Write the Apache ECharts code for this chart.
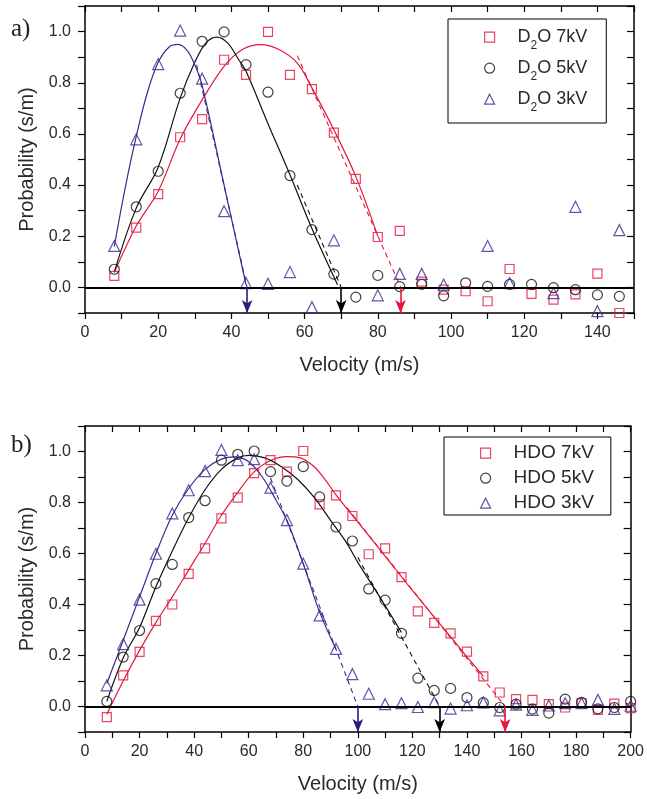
<!DOCTYPE html>
<html><head><meta charset="utf-8">
<script src="https://cdn.jsdelivr.net/npm/echarts/dist/echarts.min.js"></script>
<style>html,body{margin:0;padding:0;background:#fff}#c{width:647px;height:799px}</style>
</head><body><div id="c"></div>
<script>
// ---------- Panel a) D2O ----------
const velTop = [8,14,20,26,32,38,44,50,56,62,68,74,80,86,92,98,104,110,116,122,128,134,140,146];
const d2o7 = [0.045,0.234,0.365,0.587,0.658,0.890,0.831,0.999,0.831,0.775,0.605,0.424,0.197,0.221,0.023,-0.009,-0.015,-0.054,0.072,-0.025,-0.048,-0.027,0.054,-0.100];
const d2o5 = [0.071,0.315,0.454,0.759,0.962,0.999,0.871,0.763,0.437,0.226,0.052,-0.038,0.047,0.003,0.012,-0.033,0.018,0.004,0.012,0.012,-0.001,-0.009,-0.029,-0.035];
const d2o3 = [0.162,0.579,0.873,1.004,0.816,0.298,0.017,0.014,0.060,-0.077,0.184,null,-0.031,0.053,0.053,0.011,null,0.162,0.017,null,-0.022,0.315,-0.093,0.224];
const fitTop7 = [[8,0.058],[14,0.24],[20,0.376],[26,0.58],[32,0.733],[38,0.864],[43,0.93],[48,0.949],[53,0.93],[58,0.877],[62,0.78],[68,0.616],[74,0.433],[80,0.2]];
const fitTop5 = [[8,0.06],[14,0.31],[20,0.47],[26,0.74],[30,0.88],[33,0.955],[36,0.978],[39,0.955],[42,0.89],[44,0.845],[50,0.64],[56,0.44],[62,0.23],[69,0.01]];
const fitTop3 = [[8,0.16],[11,0.39],[14,0.59],[17,0.76],[20,0.88],[23,0.94],[25.5,0.95],[28,0.925],[30,0.87],[32,0.79],[38,0.40],[44,0.01]];
const linTop7 = [[58,0.906],[86.3,0]];
const linTop5 = [[58,0.40],[70,0]];
const linTop3 = [[30.5,0.87],[44.3,0]];
const arrowsTop = [44.3, 70, 86.2];
const namesTop = ['D2O 7kV','D2O 5kV','D2O 3kV'];

// ---------- Panel b) HDO ----------
const velBot = [8,14,20,26,32,38,44,50,56,62,68,74,80,86,92,98,104,110,116,122,128,134,140,146,152,158,164,170,176,182,188,194,200];
const hdo7 = [-0.042,0.122,0.214,0.336,0.400,0.520,0.620,0.738,0.819,0.915,0.966,0.921,1.002,0.793,0.828,0.747,0.597,0.620,0.507,0.373,0.328,0.287,0.215,0.118,0.055,0.029,0.026,0.009,-0.004,0.013,-0.013,0.011,-0.006];
const hdo5 = [0.020,0.194,0.298,0.482,0.557,0.741,0.807,0.966,0.989,1.002,0.921,0.884,0.941,0.822,0.704,0.649,0.461,0.417,0.287,0.111,0.063,0.071,0.035,0.015,-0.004,0.009,-0.010,-0.026,0.029,0.016,-0.009,-0.004,0.020];
const hdo3 = [0.083,0.245,0.419,0.599,0.757,0.848,0.923,1.006,0.966,0.970,0.858,0.731,0.560,0.357,0.226,0.127,0.050,0.009,0.013,-0.002,0.017,-0.008,0.005,0.016,-0.015,0.007,-0.013,0.004,0.013,0.013,0.026,-0.009,0.003];
const fitBot7 = [[8,-0.03],[14,0.1],[20,0.22],[26,0.33],[32,0.43],[38,0.535],[44,0.64],[50,0.75],[56,0.84],[62,0.92],[68,0.965],[74,0.98],[79,0.975],[84,0.94],[88,0.89],[92,0.83],[98,0.75],[104,0.67],[110,0.59],[120,0.455],[130,0.325],[140,0.195],[146,0.118]];
const fitBot5 = [[8,0.02],[14,0.19],[20,0.31],[26,0.47],[32,0.61],[38,0.74],[44,0.85],[50,0.93],[56,0.975],[60,0.985],[66,0.975],[72,0.94],[78,0.89],[84,0.82],[90,0.73],[96,0.64],[100,0.565],[108,0.43],[116,0.29]];
const fitBot3 = [[8,0.09],[14,0.26],[20,0.43],[26,0.6],[32,0.75],[38,0.855],[44,0.93],[50,0.97],[55,0.979],[60,0.96],[65,0.9],[70,0.81],[74,0.73],[80,0.56],[86,0.37],[92,0.225]];
const linBot7 = [[96,0.78],[154,0]];
const linBot5 = [[100,0.585],[130,0]];
const linBot3 = [[68,0.896],[100,0]];
const arrowsBot = [100, 130, 154];
const namesBot = ['HDO 7kV','HDO 5kV','HDO 3kV'];

const RED = '#e5173a', BLK = '#111111', PUR = '#3b2a8e', PURA = '#2d1a7c';
const FONT = 'Liberation Sans, Arial, sans-serif';
const TXT = '#2a2a2a';

function pairs(v, a){ const out=[]; v.forEach((x,i)=>{ if(a[i]!==null) out.push([x,a[i]]); }); return out; }

function xAxes(gi, max){
  return [
    {type:'value', gridIndex:gi, min:0, max:max, interval:10, position:'bottom',
     axisLine:{onZero:false, lineStyle:{color:'#000', width:1.5}},
     axisTick:{inside:false, length:6, lineStyle:{color:'#000', width:1.2}},
     axisLabel:{margin:12, fontSize:16, color:TXT, fontFamily:FONT, formatter:v => (v%20===0 ? String(v) : '')},
     splitLine:{show:false},
     name:'Velocity (m/s)', nameLocation:'middle', nameGap:42,
     nameTextStyle:{fontSize:20, color:TXT, fontFamily:FONT}},
    {type:'value', gridIndex:gi, min:0, max:max, interval:10, position:'top',
     axisLine:{onZero:false, lineStyle:{color:'#000', width:1.5}},
     axisTick:{inside:true, length:6, lineStyle:{color:'#000', width:1.2}},
     axisLabel:{show:false}, splitLine:{show:false}}
  ];
}
function yAxes(gi){
  return [
    {type:'value', gridIndex:gi, min:-0.1, max:1.1, interval:0.1, position:'left',
     axisLine:{onZero:false, lineStyle:{color:'#000', width:1.5}},
     axisTick:{inside:false, length:7, lineStyle:{color:'#000', width:1.2}},
     axisLabel:{margin:14, fontSize:16, color:TXT, fontFamily:FONT, formatter:v => { const k=Math.round(v*10); return (k>=0 && k<=10 && k%2===0) ? (k/10).toFixed(1) : ''; }},
     splitLine:{show:false},
     name:'Probability (s/m)', nameLocation:'middle', nameGap:46, nameRotate:90,
     nameTextStyle:{fontSize:20, color:TXT, fontFamily:FONT}},
    {type:'value', gridIndex:gi, min:-0.1, max:1.1, interval:0.1, position:'right',
     axisLine:{onZero:false, lineStyle:{color:'#000', width:1.5}},
     axisTick:{inside:true, length:7, lineStyle:{color:'#000', width:1.2}},
     axisLabel:{show:false}, splitLine:{show:false}}
  ];
}

function panelSeries(xi, yi, vel, sets, names, fits, lins, arrows){
  const cols = [RED, BLK, PUR];
  const syms = ['rect','circle','triangle'];
  const sizes = [9, 10, 11];
  const arrowCols = [PURA, '#000', RED]; // arrows listed left to right: 3kV, 5kV, 7kV
  const s = [];
  for (let i=0;i<3;i++){
    s.push({type:'line', name:'fit'+i, xAxisIndex:xi, yAxisIndex:yi, data:fits[i], smooth:0.35,
      showSymbol:false, lineStyle:{color:cols[i], width:1.2}, z:3, silent:true});
    s.push({type:'line', name:'lin'+i, xAxisIndex:xi, yAxisIndex:yi, data:lins[i],
      showSymbol:false, lineStyle:{color:cols[i], width:1.1, type:[5,4]}, z:3, silent:true});
  }
  for (let i=0;i<3;i++){
    s.push({type:'scatter', name:names[i], xAxisIndex:xi, yAxisIndex:yi, data:pairs(vel, sets[i]),
      symbol:syms[i], symbolSize:sizes[i], z:4,
      itemStyle:{color:'rgba(0,0,0,0)', borderColor:cols[i], borderWidth:1.2}});
  }
  s.push({type:'line', name:'zero', xAxisIndex:xi, yAxisIndex:yi, data:[], silent:true,
    markLine:{silent:true, symbol:['none','none'], label:{show:false}, animation:false,
      lineStyle:{color:'#000', width:2.2, type:'solid'}, data:[{yAxis:0}]}});
  arrows.forEach((a, j) => {
    s.push({type:'line', name:'arrow'+j, xAxisIndex:xi, yAxisIndex:yi, data:[], silent:true,
      markLine:{silent:true, symbol:['none','arrow'], symbolSize:[8,13], label:{show:false}, animation:false,
        lineStyle:{color:arrowCols[j], width:1.6, type:'solid'},
        data:[[{coord:[a,0]},{coord:[a,-0.1]}]]}});
  });
  return s;
}

function legendFor(names, left, top, sub, padding, gap){
  return {
    show:true, orient:'vertical', left:left, top:top, data:names,
    selectedMode:false, itemWidth:10, itemHeight:10, itemGap:gap,
    padding:padding, borderColor:'#000', borderWidth:1, backgroundColor:'#fff',
    itemStyle:{borderWidth:1.2},
    formatter: n => sub ? ('{a|' + n.slice(0,1) + '}{s|2}{b|' + n.slice(2) + '}') : ('{a|' + n + '}'),
    textStyle:{color:TXT, fontFamily:FONT,
      rich:{
        a:{fontSize:sub?18:19, lineHeight:sub?20:22, padding:[0,0,0,18], color:TXT, fontFamily:FONT},
        s:{fontSize:12, lineHeight:14, padding:[17,0,0,0], color:TXT, fontFamily:FONT},
        b:{fontSize:18, lineHeight:20, color:TXT, fontFamily:FONT}
      }}
  };
}

const chart = echarts.init(document.getElementById('c'), null, {renderer:'canvas'});
chart.setOption({
  animation:false,
  backgroundColor:'#fff',
  title:[
    {text:'a)', left:6, top:12, textStyle:{fontFamily:'Liberation Serif, Times New Roman, serif', fontWeight:'normal', fontSize:25, color:'#222'}},
    {text:'b)', left:6, top:428, textStyle:{fontFamily:'Liberation Serif, Times New Roman, serif', fontWeight:'normal', fontSize:25, color:'#222'}}
  ],
  grid:[
    {left:85, top:6, width:549, height:307, containLabel:false},
    {left:85, top:426, width:548, height:306, containLabel:false}
  ],
  legend:[
    legendFor(namesTop, 448, 19, true, [3.7,19,9.3,36], 2),
    legendFor(namesBot, 444, 437, false, [6.7,17,2.3,36], 6)
  ],
  xAxis:[...xAxes(0,150), ...xAxes(1,200)],
  yAxis:[...yAxes(0), ...yAxes(1)],
  series:[
    ...panelSeries(0, 0, velTop, [d2o7,d2o5,d2o3], namesTop, [fitTop7,fitTop5,fitTop3], [linTop7,linTop5,linTop3], arrowsTop),
    ...panelSeries(2, 2, velBot, [hdo7,hdo5,hdo3], namesBot, [fitBot7,fitBot5,fitBot3], [linBot7,linBot5,linBot3], arrowsBot)
  ]
});
</script></body></html>
